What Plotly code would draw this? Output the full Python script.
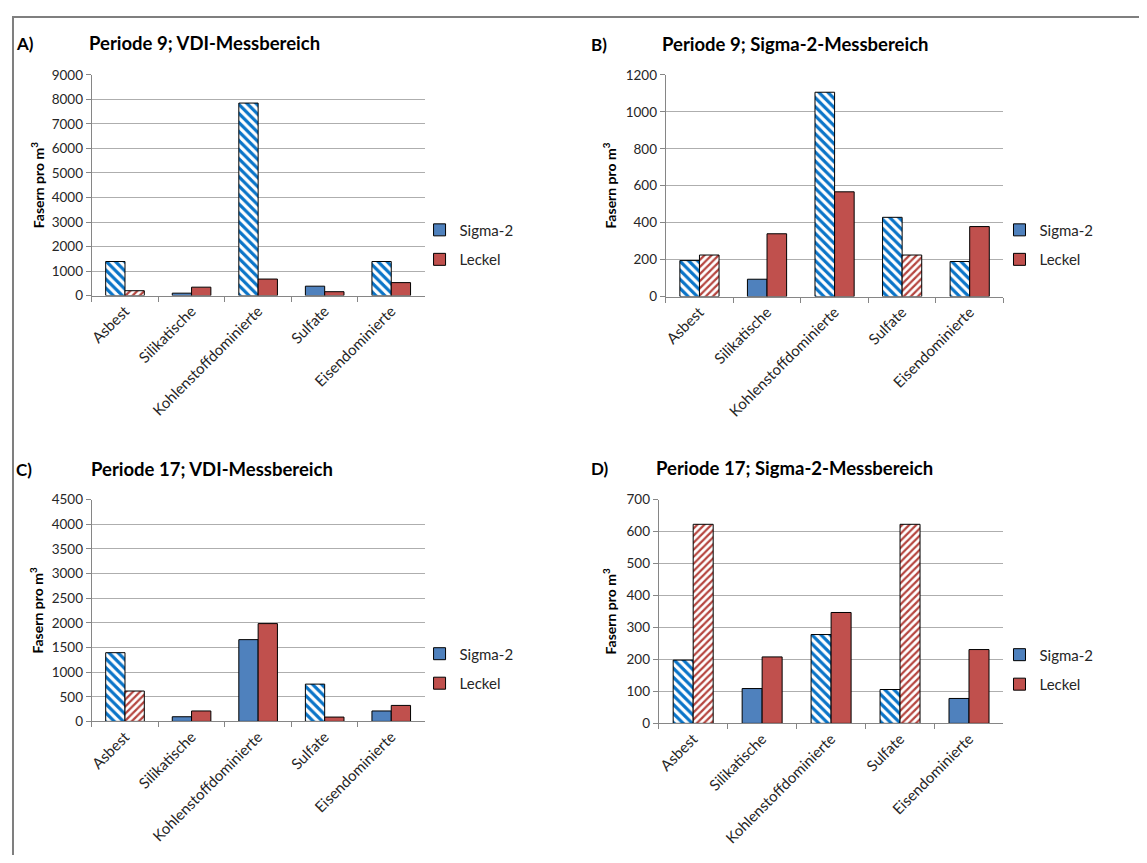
import plotly.graph_objects as go

# The page has the browser's default 8px body margin, so the figure is
# sized to fit the 1147x863 window exactly; layout positions below are
# given in window pixels and converted.
PAGE_W, PAGE_H = 1147, 863
MARGIN = 8
W, H = PAGE_W - 2 * MARGIN, PAGE_H - 2 * MARGIN

categories = ["Asbest", "Silikatische", "Kohlenstoffdominierte", "Sulfate", "Eisendominierte"]
series_names = ["Sigma-2", "Leckel"]

# Panel A: Periode 9; VDI-Messbereich
a_sigma = [1390, 100, 7850, 385, 1390]
a_leckel = [200, 345, 675, 160, 530]
a_sigma_hatch = [True, False, True, False, True]
a_leckel_hatch = [True, False, False, False, False]

# Panel B: Periode 9; Sigma-2-Messbereich
b_sigma = [195, 94, 1106, 429, 190]
b_leckel = [225, 340, 567, 225, 379]
b_sigma_hatch = [True, False, True, True, True]
b_leckel_hatch = [True, False, False, True, False]

# Panel C: Periode 17; VDI-Messbereich
c_sigma = [1395, 95, 1660, 757, 212]
c_leckel = [617, 212, 1985, 88, 325]
c_sigma_hatch = [True, False, False, True, False]
c_leckel_hatch = [True, False, False, False, False]

# Panel D: Periode 17; Sigma-2-Messbereich
d_sigma = [198, 109, 278, 106, 78]
d_leckel = [623, 208, 347, 623, 231]
d_sigma_hatch = [True, False, True, True, False]
d_leckel_hatch = [True, False, False, True, False]

panel_letters = ["A)", "B)", "C)", "D)"]
panel_titles = ["Periode 9; VDI-Messbereich", "Periode 9; Sigma-2-Messbereich",
                "Periode 17; VDI-Messbereich", "Periode 17; Sigma-2-Messbereich"]
y_ranges = [9000, 1200, 4500, 700]
y_dticks = [1000, 200, 500, 100]
y_label = "Fasern pro m<sup>3</sup>"

BLUE = "#4F81BD"
BLUE_HATCH = "#0A74C8"
RED = "#C0504D"
RED_HATCH = "#B5453F"
FONT = "Lato"

# window-pixel layout of each plot area: (x0, x1, ytop, ybottom)
boxes = [(88, 422, 68, 293), (664, 1003, 68, 294), (88, 422, 501, 727), (657, 1003, 501, 729)]
title_pos = [(10, 83, 36), (587, 658, 37), (10, 85, 470), (587, 652, 469)]
ylab_x = [33, 608, 33, 608]
legend_pos = [(417, 241), (999, 241), (417, 673), (999, 674)]

data = [
    (a_sigma, a_leckel, a_sigma_hatch, a_leckel_hatch),
    (b_sigma, b_leckel, b_sigma_hatch, b_leckel_hatch),
    (c_sigma, c_leckel, c_sigma_hatch, c_leckel_hatch),
    (d_sigma, d_leckel, d_sigma_hatch, d_leckel_hatch),
]

fig = go.Figure()
layout = dict(width=W, height=H, margin=dict(l=0, r=0, t=0, b=0),
              paper_bgcolor="white", plot_bgcolor="white",
              barmode="group", bargap=0.42, bargroupgap=0.0,
              font=dict(family=FONT, color="#262626"), annotations=[], shapes=[])


def px_x(v):
    return (v - MARGIN) / W


def px_y(v):
    return 1 - (v - MARGIN) / H


for i, (sig, lec, sh, lh) in enumerate(data):
    n = i + 1
    xa = "x" if n == 1 else f"x{n}"
    ya = "y" if n == 1 else f"y{n}"
    leg = "legend" if n == 1 else f"legend{n}"
    for vals, hatch, color, hcolor, shape, size, solid, name, og in (
        (sig, sh, BLUE, BLUE_HATCH, "\\", 6.4, 0.5, series_names[0], "s"),
        (lec, lh, RED, RED_HATCH, "/", 5.0, 0.45, series_names[1], "l"),
    ):
        solid_vals = [None if h else v for v, h in zip(vals, hatch)]
        hatch_vals = [v if h else None for v, h in zip(vals, hatch)]
        # solid bars (also carry the legend entry)
        fig.add_trace(go.Bar(
            x=categories, y=solid_vals, xaxis=xa, yaxis=ya, name=name,
            legend=leg, legendgroup=f"{name}{n}", offsetgroup=og,
            marker=dict(color=color, line=dict(color="black", width=1)),
        ))
        # hatched bars
        fig.add_trace(go.Bar(
            x=categories, y=hatch_vals, xaxis=xa, yaxis=ya, name=name,
            showlegend=False, offsetgroup=og,
            marker=dict(
                color="white",
                line=dict(color="black", width=1),
                pattern=dict(shape=shape, fgcolor=hcolor, bgcolor="white",
                             size=size, solidity=solid, fillmode="replace"),
            ),
        ))

    x0, x1, yt, yb = boxes[i]
    layout["xaxis" if n == 1 else f"xaxis{n}"] = dict(
        domain=[px_x(x0), px_x(x1)], anchor=ya, type="category",
        showline=True, linecolor="#868686", linewidth=1,
        ticks="outside", tickson="boundaries", ticklen=5, tickcolor="#868686",
        tickangle=-45, tickfont=dict(size=15, family=FONT, color="#262626"),
        showgrid=False, fixedrange=True,
    )
    layout["yaxis" if n == 1 else f"yaxis{n}"] = dict(
        domain=[px_y(yb), px_y(yt)], anchor=xa, range=[0, y_ranges[i]],
        dtick=y_dticks[i], tick0=0,
        showline=True, linecolor="#868686", linewidth=1,
        ticks="outside", ticklen=5, tickcolor="#868686",
        showgrid=True, gridcolor="#AEAEAE", gridwidth=1,
        zeroline=False, tickfont=dict(size=13.5, family=FONT, color="#262626"),
        fixedrange=True,
    )
    lx, ly = legend_pos[i]
    layout[leg] = dict(
        x=px_x(lx), y=px_y(ly), xanchor="left", yanchor="middle",
        bgcolor="rgba(0,0,0,0)", font=dict(size=15, family=FONT, color="#262626"),
        tracegroupgap=7, itemwidth=30,
    )
    lxp, tx, ty = title_pos[i]
    layout["annotations"].append(dict(
        x=px_x(lxp), y=px_y(ty), xref="paper", yref="paper", xanchor="left", yanchor="middle",
        text=f"<b>{panel_letters[i]}</b>", showarrow=False,
        font=dict(size=17, family=FONT, color="black")))
    layout["annotations"].append(dict(
        x=px_x(tx), y=px_y(ty), xref="paper", yref="paper", xanchor="left", yanchor="middle",
        text=f"<b>{panel_titles[i]}</b>", showarrow=False,
        font=dict(size=18.5, family=FONT, color="black")))
    layout["annotations"].append(dict(
        x=px_x(ylab_x[i]), y=px_y((yt + yb) / 2), xref="paper", yref="paper",
        xanchor="center", yanchor="middle", textangle=-90,
        text=f"<b>{y_label}</b>", showarrow=False,
        font=dict(size=14, family=FONT, color="black")))

# outer frame (top and left edges visible)
layout["shapes"].append(dict(
    type="rect", xref="paper", yref="paper",
    x0=1 / W, x1=1.02, y0=-0.02, y1=1 - 1 / H,
    line=dict(color="#7F7F7F", width=2), fillcolor="rgba(0,0,0,0)"))

fig.update_layout(**layout)
fig.write_html("out.html", config={"displayModeBar": False})
